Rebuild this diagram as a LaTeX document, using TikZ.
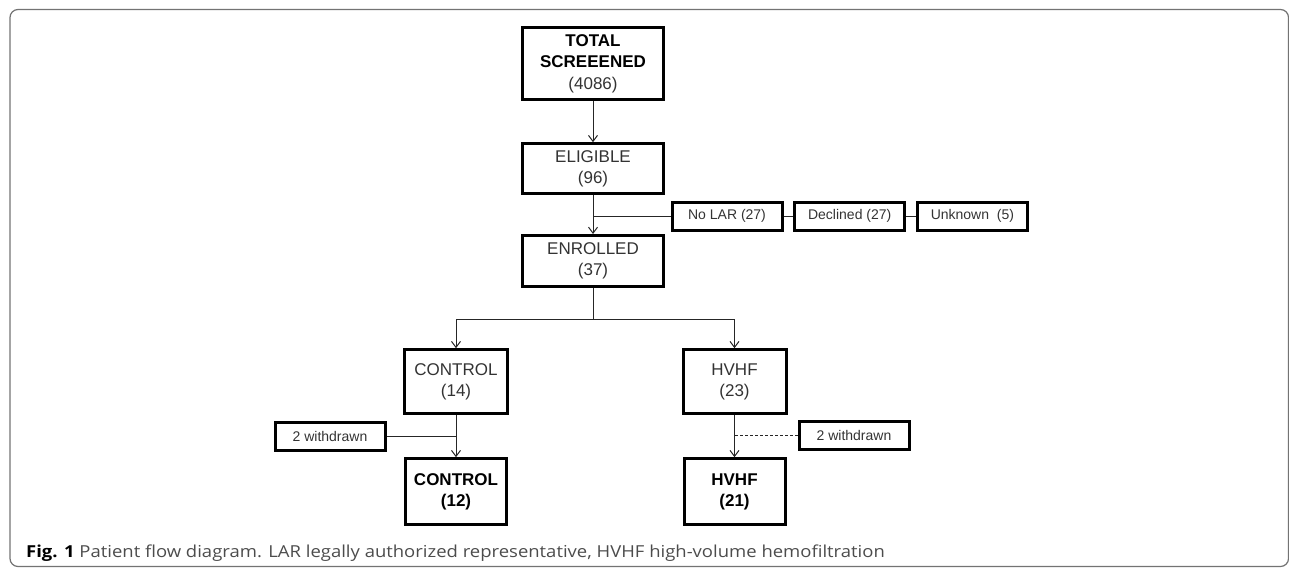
\documentclass[tikz,border=0pt]{standalone}
\usepackage{fontspec}
\setmainfont{Liberation Sans}
\newfontfamily\capfont[FakeStretch=1.12]{Open Sans}
\usetikzlibrary{arrows.meta}

\begin{document}
\begin{tikzpicture}[x=1pt, y=-1pt,
  box/.style={shape=rectangle, draw=black, line width=3pt, align=center, inner sep=0pt, text=black!80, font=\fontsize{17}{21.5}\selectfont},
  side/.style={shape=rectangle, draw=black, line width=3pt, inner sep=0pt, minimum width=110pt, minimum height=28pt, text=black!80, font=\fontsize{14}{17}\selectfont},
  arr/.style={-{Straight Barb[length=6pt,width=9pt]}, line width=1pt, draw=black!85},
  link/.style={-, line width=1pt, draw=black!85}]
\useasboundingbox (0,0) rectangle (1289,576);
\draw[draw=black!55, line width=1.2pt, rounded corners=8pt] (10,9.5) rectangle (1288.5,566.5);
% main column
\node[box, minimum width=141pt, minimum height=72pt] (total) at (593,63.5) {\textcolor{black}{\textbf{TOTAL}}\\\textcolor{black}{\textbf{SCREEENED}}\\(4086)};
\node[box, minimum width=141pt, minimum height=50pt] (elig) at (593,168.7) {ELIGIBLE\\(96)};
\node[box, minimum width=141pt, minimum height=51pt] (enrol) at (593,261) {ENROLLED\\(37)};
% excluded
\node[side] (nolar) at (727,216) {No LAR (27)};
\node[side] (decl) at (849.7,216) {Declined (27)};
\node[side] (unkn) at (972.4,216) {Unknown\ \ (5)};
% arms
\node[box, minimum width=103pt, minimum height=64pt] (ctrlA) at (456,381.7) {CONTROL\\(14)};
\node[box, minimum width=103pt, minimum height=64pt] (hvhfA) at (734.5,381.7) {HVHF\\(23)};
\node[side] (wdL) at (330,436) {2 withdrawn};
\node[side] (wdR) at (854,435.7) {2 withdrawn};
\node[box, minimum width=101pt, minimum height=66pt, text=black] (ctrlB) at (456,491.7) {\textbf{CONTROL}\\\textbf{(12)}};
\node[box, minimum width=101pt, minimum height=66pt, text=black] (hvhfB) at (734.5,491.7) {\textbf{HVHF}\\\textbf{(21)}};
% joints
\coordinate (br) at (593,216);
\coordinate (sp) at (593,319.3);
\coordinate (jL) at (456,436);
\coordinate (jR) at (734.5,435.7);
\path [arr] (total) edge (elig);
\path [arr] (elig) edge (enrol);
\path [link] (nolar) edge (br);
\path [link] (nolar) edge (decl);
\path [link] (decl) edge (unkn);
\path [link] (enrol) edge (sp);
\draw [arr] (sp) -| (ctrlA);
\draw [arr] (sp) -| (hvhfA);
\path [arr] (ctrlA) edge (ctrlB);
\path [arr] (hvhfA) edge (hvhfB);
\path [link] (wdL) edge (jL);
\path [link, densely dashed] (wdR) edge (jR);
% caption
\node[anchor=base west, inner sep=0pt, text=black!70, font=\capfont\fontsize{16.5}{19}\selectfont] (cap) at (26,557) {\textcolor{black}{\textbf{Fig. 1}} Patient flow diagram. LAR legally authorized representative, HVHF high-volume hemofiltration};
\end{tikzpicture}
\end{document}
